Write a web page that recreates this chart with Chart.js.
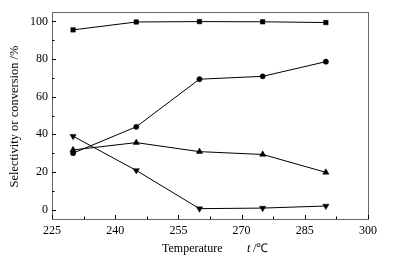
<!DOCTYPE html>
<html><head><meta charset="utf-8">
<script src="https://cdn.jsdelivr.net/npm/chart.js@4"></script>
<style>html,body{margin:0;padding:0;background:#fff}#w{width:404px;height:259px}</style>
</head><body><div id="w"><canvas id="c"></canvas></div>
<script>
const temperatures = [230, 245, 260, 275, 290];
const seriesSquare = [95.5, 99.7, 99.9, 99.8, 99.4];
const seriesCircle = [30.0, 44.0, 69.3, 70.8, 78.6];
const seriesTriUp = [31.7, 35.6, 30.8, 29.3, 19.8];
const seriesTriDown = [39.0, 20.8, 0.5, 0.8, 1.9];
const xTicks = [225, 240, 255, 270, 285, 300];
const yTicks = [0, 20, 40, 60, 80, 100];
const yTitle = 'Selectivity or conversion /%';

const FONT = "'Liberation Serif', 'Times New Roman', serif";
function mk(vals, style, r, rot) {
  return {
    data: temperatures.map((t, i) => ({x: t, y: vals[i]})),
    showLine: true, borderColor: '#000', borderWidth: 1,
    backgroundColor: '#000', pointBackgroundColor: '#000', pointBorderColor: '#000',
    pointStyle: style, pointRadius: r, pointRotation: rot || 0, pointBorderWidth: 0.5
  };
}
const ticksPlugin = {
  id: 'ticksPlugin',
  afterDraw(chart) {
    const ctx = chart.ctx, a = chart.chartArea, xs = chart.scales.x, ys = chart.scales.y;
    ctx.save();
    ctx.strokeStyle = '#666'; ctx.lineWidth = 1;
    ctx.strokeRect(a.left + 0.5, a.top + 0.5, a.right - a.left, a.bottom - a.top);
    ctx.strokeStyle = '#000';
    ctx.beginPath();
    for (let v = 225; v <= 300; v += 7.5) {
      const px = Math.round(xs.getPixelForValue(v)) + 0.5;
      const len = (v - 225) % 15 === 0 ? 4 : 2.5;
      ctx.moveTo(px, a.bottom); ctx.lineTo(px, a.bottom - len);
    }
    for (let v = 0; v <= 100; v += 10) {
      const py = Math.round(ys.getPixelForValue(v)) + 0.5;
      const len = v % 20 === 0 ? 4 : 2.5;
      ctx.moveTo(a.left, py); ctx.lineTo(a.left + len, py);
    }
    ctx.stroke();
    ctx.fillStyle = '#000';
    ctx.textBaseline = 'middle';
    // y title
    ctx.save();
    ctx.translate(15, (a.top + a.bottom) / 2 + 1);
    ctx.rotate(-Math.PI / 2);
    ctx.textAlign = 'center';
    ctx.font = '12.5px ' + FONT;
    ctx.fillText(yTitle, 0, 0);
    ctx.restore();
    // x title
    ctx.textAlign = 'left';
    const ty = 249;
    ctx.font = '12px ' + FONT;
    ctx.fillText('Temperature', 162, ty);
    ctx.font = 'italic 12px ' + FONT;
    ctx.fillText('t', 247, ty);
    ctx.font = '12px ' + FONT;
    ctx.fillText('/℃', 253, ty);
    ctx.restore();
  }
};
new Chart(document.getElementById('c'), {
  type: 'scatter',
  data: { datasets: [
    mk(seriesSquare, 'rect', 3.2),
    mk(seriesCircle, 'circle', 2.6),
    mk(seriesTriUp, 'triangle', 3.6),
    mk(seriesTriDown, 'triangle', 3.6, 180)
  ]},
  options: {
    responsive: true, maintainAspectRatio: false, animation: false,
    layout: { padding: { left: 0, right: 36, top: 12, bottom: 0 } },
    plugins: { legend: { display: false }, tooltip: { enabled: false } },
    scales: {
      x: {
        type: 'linear', min: 225, max: 300,
        afterBuildTicks: s => { s.ticks = xTicks.map(v => ({value: v})); },
        afterFit: s => { s.height = 40; },
        grid: { display: false, drawTicks: false },
        border: { display: false },
        ticks: { color: '#000', font: { family: FONT, size: 12 }, padding: 5, maxRotation: 0 }
      },
      y: {
        min: -5, max: 105,
        afterBuildTicks: s => { s.ticks = yTicks.map(v => ({value: v})); },
        afterFit: s => { s.width = 52; },
        grid: { display: false, drawTicks: false },
        border: { display: false },
        ticks: { color: '#000', font: { family: FONT, size: 12 }, padding: 4 }
      }
    }
  },
  plugins: [ticksPlugin]
});
</script>
</body></html>
